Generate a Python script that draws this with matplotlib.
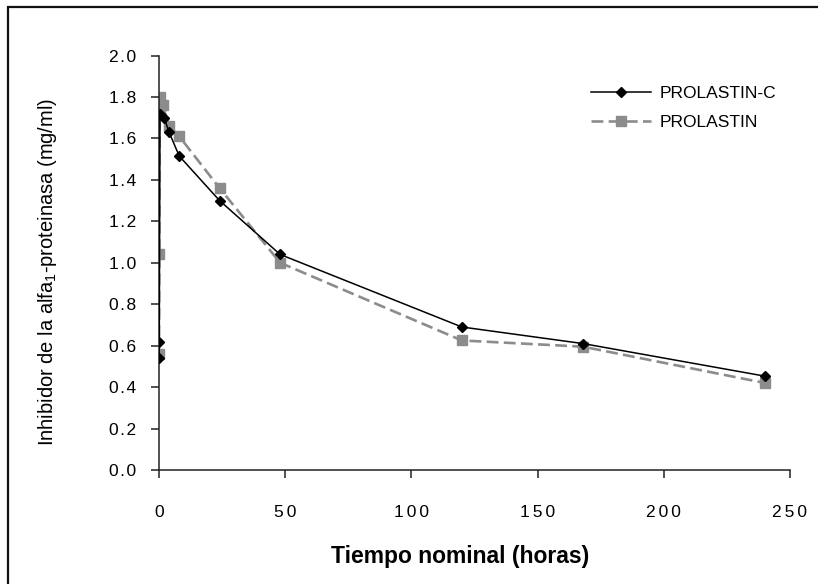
import matplotlib
matplotlib.use("Agg")
import matplotlib.pyplot as plt
from matplotlib.patches import Rectangle
from matplotlib.lines import Line2D

plt.rcParams["font.family"] = ["Liberation Sans", "DejaVu Sans"]
plt.rcParams["mathtext.fontset"] = "custom"
plt.rcParams["mathtext.rm"] = "Liberation Sans"
plt.rcParams["mathtext.it"] = "Liberation Sans"

# PROLASTIN-C (black diamonds)
t_c = [0, 0.1, 0.4, 2, 4, 8, 24, 48, 120, 168, 240]
val_c = [0.54, 0.62, 1.72, 1.70, 1.63, 1.515, 1.30, 1.04, 0.69, 0.61, 0.453]

# PROLASTIN (grey squares)
t_p = [0, 0.1, 0.2, 0.4, 1.5, 4, 8, 24, 48, 120, 168, 240]
val_p = [0.56, 1.04, 1.73, 1.80, 1.76, 1.66, 1.61, 1.36, 1.00, 0.625, 0.595, 0.42]

xticks = [0, 50, 100, 150, 200, 250]
yticks = [0.0, 0.2, 0.4, 0.6, 0.8, 1.0, 1.2, 1.4, 1.6, 1.8, 2.0]

grey = "#8c8c8c"

# Excel-style letter spacing on tick labels
def spaced(s, sep):
    return sep.join(s)

W, H = 818, 584
fig = plt.figure(figsize=(W / 100, H / 100), dpi=100)
ax = fig.add_axes([159 / W, 1 - 470 / H, (790 - 159) / W, (470 - 55.5) / H])

ax.plot(t_p, val_p, color=grey, lw=1.9, dashes=(4.5, 2.0),
        marker="s", ms=6.5, mfc=grey, mec=grey, zorder=2)
ax.plot(t_c, val_c, color="black", lw=1.1,
        marker="D", ms=5.5, mfc="black", mec="black", zorder=3)

ax.set_xlim(0, 250)
ax.set_ylim(0, 2.0)
ax.set_xticks(xticks)
ax.set_yticks(yticks)
ax.set_xticklabels([spaced(str(x), "\u200a\u200a") for x in xticks])
ax.set_yticklabels([spaced(f"{y:.1f}", "\u200a") for y in yticks])
ax.tick_params(axis="both", direction="out", length=6, width=1.1,
               labelsize=12.5, color="#222222")
ax.tick_params(axis="y", pad=10.5)
ax.tick_params(axis="x", pad=19)
for s in ["top", "right"]:
    ax.spines[s].set_visible(False)
for s in ["left", "bottom"]:
    ax.spines[s].set_linewidth(1.1)
    ax.spines[s].set_color("#222222")

fig.text(48 / W, 1 - 272 / H, r"Inhibidor de la alfa$_1$-proteinasa (mg/ml)",
         fontsize=14.5, rotation=90, ha="center", va="center")
fig.text(460 / W, 1 - 556 / H, "Tiempo nominal (horas)", fontsize=16.5,
         fontweight="bold", ha="center", va="center")

handles = [
    Line2D([], [], color="black", lw=1.1, marker="D", ms=5.5),
    Line2D([], [], color=grey, lw=1.9, dashes=(4.5, 2.0), marker="s", ms=6.5),
]
fig.legend(handles, ["PROLASTIN-C", "PROLASTIN"], loc="upper left",
           bbox_to_anchor=(575 / W, 1 - 70 / H), frameon=False, fontsize=12.5,
           handlelength=3.5, labelspacing=0.8, handletextpad=0.5)

fig.patches.append(Rectangle((8 / W, -0.1), 1.2, 1 - 7 / H + 0.1,
                             transform=fig.transFigure, fill=False,
                             ec="#111111", lw=1.6))

fig.savefig("out.png", dpi=100)
